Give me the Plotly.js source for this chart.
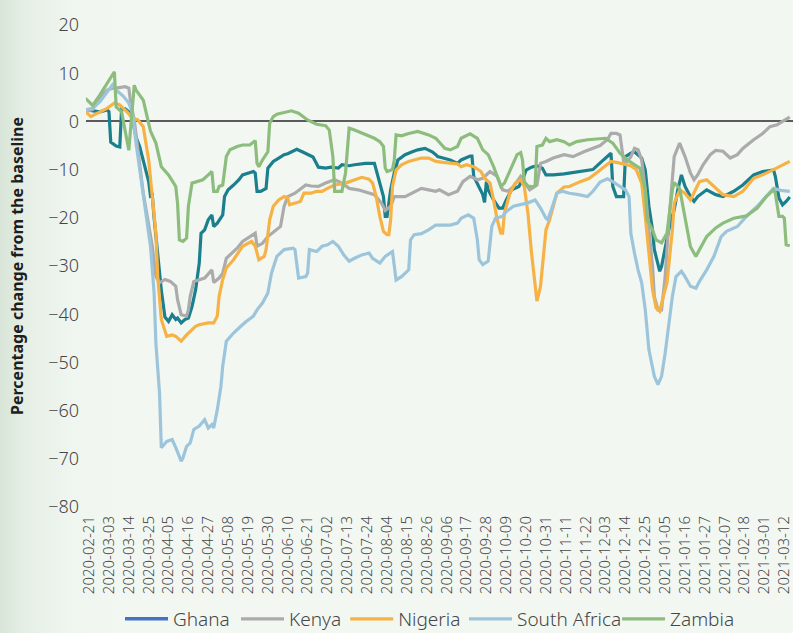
<!DOCTYPE html>
<html>
<head>
<meta charset="utf-8">
<script src="https://cdn.plot.ly/plotly-3.0.1.min.js"></script>
<style>
  html, body { margin: 0; padding: 0; }
  body { width: 793px; height: 633px; overflow: hidden;
    background: linear-gradient(to right, #d8e5d8 0px, #e6efe6 25px, #eff5ef 70px, #f2f7f2 120px, #f2f7f2 100%); }
  #chart { width: 793px; height: 633px; }
</style>
</head>
<body>
<div id="chart"></div>
<script>
// Day offsets are counted from 2020-02-21 (first tick date)
const ghanaDays = [-2,2,6,10,11,12,15,17,18,20,22,24,26,28,30,32,33,34,35,36,37,39,40,42,43,44,46,48,49,51,53,55,57,59,61,62,64,66,68,69,71,74,75,77,80,83,85,88,91,92,93,95,97,98,99,102,105,108,110,115,118,121,124,127,131,134,138,140,144,147,153,158,160,163,164,165,167,169,171,175,179,182,186,190,192,193,196,200,204,206,211,212,213,215,217,218,219,220,221,224,227,229,231,234,238,240,242,245,248,251,253,257,263,268,276,279,283,287,289,290,292,296,297,300,302,306,308,310,312,313,316,317,319,321,324,326,328,330,333,335,337,342,347,351,357,362,368,373,379,380,382,384,386,388];
const ghanaVals = [2.4,2.2,2.0,2.4,2.0,-4.3,-5.1,-5.3,2.6,2.6,2.0,0.5,-3.3,-5.2,-8.0,-10.5,-12.5,-15.5,-15.3,-20,-24,-31,-35,-40.6,-41.1,-41.5,-40.1,-41.1,-40.8,-41.8,-41.1,-40.8,-38.4,-34.9,-29.4,-23.2,-22.5,-20.4,-19.4,-21.8,-21.1,-19.4,-15.6,-14.2,-13.2,-12.1,-11.1,-10.7,-10.4,-10.7,-14.5,-14.5,-14.2,-13.9,-9.7,-8.3,-7.6,-6.9,-6.7,-5.8,-6.3,-6.9,-7.4,-9.5,-9.7,-9.5,-9.7,-9.0,-9.2,-9.0,-8.7,-8.7,-11.4,-15.6,-19.7,-19.7,-14.2,-10.7,-8.0,-6.9,-6.3,-5.9,-5.6,-6.3,-6.9,-7.3,-7.6,-8.0,-8.7,-8.0,-7.2,-7.2,-11.4,-12.8,-14.2,-15.2,-16.8,-12.5,-14.2,-16.3,-18.0,-18.0,-16.3,-14.2,-13.5,-12.1,-10.1,-9.5,-9.2,-9.7,-11.1,-11.1,-10.9,-10.6,-10.2,-10.0,-8.6,-7.4,-6.6,-13.5,-15.6,-15.6,-7.3,-6.6,-6.3,-7.6,-10.1,-17.6,-22.5,-26.6,-31.1,-30.1,-25.9,-22.5,-18.3,-14.2,-11.1,-13.5,-15.6,-16.6,-15.6,-14.2,-15.2,-15.6,-14.5,-13.2,-11.1,-10.4,-10.1,-11.4,-15.9,-17.3,-16.6,-15.7];

const kenyaDays = [-2,2,6,10,13,15,20,22,23,25,30,35,37,39,42,45,48,49,51,54,55,56,58,61,64,68,69,72,74,76,78,82,85,88,92,93,95,96,99,103,106,108,110,114,120,123,127,131,136,140,144,149,155,158,162,164,167,169,175,179,184,188,192,194,199,204,207,211,215,218,222,226,229,232,235,239,241,244,248,250,253,257,263,268,274,279,283,285,287,289,292,294,295,296,298,300,302,304,306,308,310,312,313,315,317,319,321,323,324,327,330,333,335,337,340,344,347,351,355,359,362,368,373,377,381,384,388];
const kenyaVals = [2.0,2.5,5.0,6.5,6.9,6.9,7.2,6.9,4.0,0.3,-14.9,-25.9,-32.2,-33.5,-32.8,-33.2,-34.2,-37.0,-40.1,-40.4,-39.1,-36.3,-33.2,-32.8,-32.5,-30.8,-33.4,-32.5,-31.5,-28.4,-27.7,-26.3,-24.9,-24.2,-23.2,-25.9,-25.6,-25.3,-23.9,-22.8,-21.8,-17.6,-15.6,-14.9,-13.2,-13.4,-13.5,-12.8,-12.1,-12.8,-13.9,-14.2,-14.9,-15.2,-17.0,-18.5,-17.6,-15.6,-15.6,-14.9,-13.9,-14.2,-14.5,-14.2,-15.2,-14.5,-12.5,-11.4,-12.1,-11.8,-10.4,-11.4,-14.2,-14.5,-13.5,-11.4,-12.5,-14.2,-13.2,-8.7,-8.3,-7.6,-6.9,-7.3,-6.3,-5.6,-5.0,-4.4,-3.8,-2.5,-2.5,-2.8,-5.2,-8.3,-8.3,-7.3,-5.6,-5.9,-8.0,-14.2,-22.5,-30.1,-36.3,-39.1,-39.1,-32.2,-21.1,-10.7,-7.3,-4.5,-7.3,-10.7,-12.1,-11.1,-9.0,-6.9,-6.0,-6.2,-7.6,-6.9,-5.6,-3.8,-2.5,-1.1,-0.7,0.0,0.9];

const nigeriaDays = [-2,1,3,6,10,14,17,21,24,27,30,33,35,37,38,40,43,46,48,49,51,54,57,59,61,66,69,71,72,74,76,80,83,85,90,92,94,97,98,100,102,105,108,110,111,114,117,119,123,126,129,132,136,142,147,151,155,157,159,161,163,165,166,167,168,170,173,177,180,184,188,192,196,200,204,206,209,213,217,219,222,224,226,228,229,230,233,236,239,241,243,245,247,248,250,252,253,255,257,259,263,266,272,277,283,287,289,292,296,300,303,306,308,310,312,314,316,318,320,323,324,327,330,333,336,338,342,347,351,357,362,368,373,379,384,388];
const nigeriaVals = [2.0,1.0,1.4,2.0,2.7,3.8,3.4,2.0,0.7,0.3,-1.1,-8.0,-14.9,-23.2,-32.2,-41.1,-44.6,-44.3,-44.6,-44.9,-45.6,-44.3,-43.2,-42.5,-42.2,-41.8,-41.8,-40.4,-36.3,-32.8,-30.4,-28.7,-27.0,-25.9,-24.9,-25.9,-28.7,-28.0,-26.6,-20.4,-17.6,-16.3,-15.6,-15.9,-17.3,-17.0,-16.6,-14.9,-14.9,-14.5,-14.5,-13.9,-13.2,-12.8,-12.1,-11.6,-12.0,-12.8,-15.6,-19.7,-22.8,-23.5,-23.5,-20.4,-13.5,-10.1,-9.0,-8.3,-8.0,-7.6,-7.6,-8.3,-8.5,-8.7,-8.8,-9.4,-9.0,-9.4,-10.4,-11.8,-12.8,-16.3,-20.4,-23.2,-23.2,-19.0,-14.9,-12.8,-12.1,-13.5,-19.0,-27.3,-34.2,-37.3,-34.2,-25.9,-22.5,-20.4,-17.6,-14.9,-13.6,-13.5,-12.5,-11.8,-10.1,-9.0,-8.3,-8.5,-8.8,-9.2,-10.0,-12.8,-19.7,-28.0,-34.9,-38.7,-39.4,-36.3,-33.5,-22.5,-17.0,-14.2,-14.9,-16.3,-13.9,-12.5,-12.1,-13.9,-15.2,-15.6,-14.5,-11.8,-11.1,-10.0,-9.0,-8.3];

const southAfricaDays = [-2,2,6,10,13,15,19,22,24,26,28,31,34,36,37,39,40,43,46,48,50,51,52,54,56,58,61,64,66,68,69,71,73,74,76,80,84,87,91,93,96,99,101,104,108,113,114,116,120,121,122,126,129,132,135,138,141,144,147,151,155,157,161,164,168,169,170,173,177,178,180,184,188,192,200,204,206,210,213,215,216,218,221,223,225,229,231,235,239,243,247,250,253,254,256,259,262,266,271,276,279,283,287,290,294,297,299,300,302,304,306,308,310,313,315,317,319,321,323,325,328,330,333,336,338,342,346,350,353,359,364,370,375,379,383,388];
const southAfricaVals = [2.4,2.7,4.1,6.2,7.6,6.5,5.2,3.8,1.7,-4.5,-10.0,-17.6,-25.9,-35.6,-46.0,-56.3,-67.7,-66.4,-66.0,-67.7,-69.8,-70.5,-69.8,-67.4,-66.7,-63.9,-63.2,-61.9,-63.6,-62.9,-63.6,-59.8,-55.0,-50.8,-45.6,-43.9,-42.5,-41.5,-40.4,-39.1,-37.7,-35.6,-31.5,-28.0,-26.6,-26.3,-26.6,-32.5,-32.2,-31.5,-26.6,-27.0,-25.9,-25.6,-24.9,-25.9,-27.7,-29.0,-28.4,-27.7,-27.3,-28.4,-29.4,-28.0,-27.0,-30.1,-32.9,-32.2,-30.8,-24.6,-23.5,-23.3,-22.5,-21.5,-21.5,-21.1,-20.1,-19.4,-20.1,-24.6,-28.7,-29.7,-29.0,-21.8,-20.1,-19.7,-18.7,-17.6,-17.3,-16.9,-16.3,-18.0,-20.1,-20.4,-18.3,-14.9,-14.5,-14.9,-15.2,-15.6,-14.5,-12.6,-11.9,-12.5,-13.5,-14.2,-15.6,-23.2,-27.3,-30.8,-33.5,-39.1,-47.4,-52.9,-54.6,-52.9,-48.1,-41.8,-36.3,-32.2,-31.1,-32.2,-34.2,-34.6,-33.2,-30.8,-28.0,-23.9,-22.8,-21.8,-19.7,-17.6,-15.6,-13.9,-14.3,-14.5];

const zambiaDays = [-2,2,6,10,14,15,18,22,25,26,30,34,37,40,44,48,49,50,52,54,55,57,60,63,66,68,69,71,72,74,76,78,82,85,89,91,92,93,94,96,99,100,102,104,107,112,116,121,126,131,133,135,136,140,142,144,147,153,158,161,163,164,165,168,169,170,173,177,182,188,192,197,200,204,206,211,215,218,221,224,228,230,233,237,239,240,241,243,246,247,248,251,253,255,259,263,266,270,276,281,286,290,294,298,301,305,308,309,312,314,317,320,323,324,327,330,333,336,338,342,347,351,357,364,370,375,379,380,382,384,385,386,388];
const zambiaVals = [4.8,3.3,5.5,8.0,10.3,3.0,2.0,-6.0,7.5,6.5,4.4,-2.0,-4.5,-9.4,-11.1,-13.5,-17.0,-24.6,-24.9,-24.2,-17.6,-12.8,-12.5,-12.1,-11.1,-10.4,-14.5,-14.5,-13.5,-13.2,-7.3,-5.9,-5.2,-4.9,-4.9,-4.2,-4.0,-8.7,-9.4,-8.0,-6.3,-0.4,1.0,1.5,1.7,2.2,1.7,0.3,-0.6,-0.9,-1.8,-7.3,-14.5,-14.5,-10.7,-1.4,-1.8,-2.8,-3.5,-4.2,-5.2,-9.7,-10.4,-10.0,-8.0,-2.8,-3.0,-2.5,-2.1,-2.8,-3.5,-5.6,-5.9,-5.2,-3.5,-2.6,-3.5,-5.9,-6.9,-9.4,-13.5,-12.8,-10.1,-6.9,-6.5,-8.0,-12.5,-13.4,-13.6,-13.2,-5.2,-4.9,-3.5,-4.2,-3.8,-4.2,-4.9,-4.2,-3.8,-3.7,-3.5,-4.5,-6.6,-8.0,-8.7,-9.7,-14.2,-20.4,-22.5,-24.6,-25.2,-23.2,-14.2,-12.7,-13.9,-20.4,-26.0,-28.0,-26.6,-23.9,-22.1,-21.1,-20.1,-19.6,-18.0,-15.6,-14.2,-14.9,-19.7,-19.7,-20.1,-25.6,-25.8];

const seriesNames = ['Ghana', 'Kenya', 'Nigeria', 'South Africa', 'Zambia'];
const yTicks = [20, 10, 0, -10, -20, -30, -40, -50, -60, -70, -80];
const xTickLabels = ['2020-02-21','2020-03-03','2020-03-14','2020-03-25','2020-04-05','2020-04-16','2020-04-27','2020-05-08','2020-05-19','2020-05-30','2020-06-10','2020-06-21','2020-07-02','2020-07-13','2020-07-24','2020-08-04','2020-08-15','2020-08-26','2020-09-06','2020-09-17','2020-09-28','2020-10-09','2020-10-20','2020-10-31','2020-11-11','2020-11-22','2020-12-03','2020-12-14','2020-12-25','2021-01-05','2021-01-16','2021-01-27','2021-02-07','2021-02-18','2021-03-01','2021-03-12'];

const BASE = Date.UTC(2020, 1, 21);
function toDates(days) {
  return days.map(d => new Date(BASE + d * 864e5).toISOString().slice(0, 10));
}

const lineColors = ['#1b7f8d', '#ababab', '#f6b245', '#9cc5dc', '#8dbd7d'];
const legendColors = ['#4472c4', '#ababab', '#f6b245', '#9cc5dc', '#8dbd7d'];
const allDays = [ghanaDays, kenyaDays, nigeriaDays, southAfricaDays, zambiaDays];
const allVals = [ghanaVals, kenyaVals, nigeriaVals, southAfricaVals, zambiaVals];
const legendX = [0.0481, 0.2122, 0.3666, 0.5347, 0.7511];
const legendIds = ['legend', 'legend2', 'legend3', 'legend4', 'legend5'];

const FONT = '"Noto Sans Condensed", "Noto Sans", "DejaVu Sans Condensed", sans-serif';
const TXT = '#464646';

const traces = [];
seriesNames.forEach((n, i) => {
  traces.push({
    x: toDates(allDays[i]), y: allVals[i], type: 'scatter', mode: 'lines', name: n,
    showlegend: i !== 0, legend: legendIds[i],
    line: { color: lineColors[i], width: 3.2, shape: 'linear' }
  });
});
// legend swatch for Ghana (its legend colour differs from its line colour in the source)
traces.push({ x: [null], y: [null], type: 'scatter', mode: 'lines', name: seriesNames[0],
  legend: legendIds[0], line: { color: legendColors[0], width: 3.5 }, hoverinfo: 'skip' });

const layout = {
  width: 793, height: 633,
  margin: { l: 86, r: 0, t: 25, b: 126, autoexpand: false },
  paper_bgcolor: 'rgba(0,0,0,0)',
  plot_bgcolor: 'rgba(0,0,0,0)',
  font: { family: FONT, color: TXT, weight: 300, stretch: 'condensed' },
  showlegend: true,
  xaxis: {
    type: 'date',
    range: ['2020-02-19 07:00', '2021-03-16 19:00'],
    tickvals: xTickLabels, ticktext: xTickLabels,
    tickangle: -90, showgrid: false, zeroline: false, showline: false,
    ticks: '', ticklabelstandoff: 5, ticklabeloverflow: 'allow',
    tickfont: { size: 15, color: TXT, family: FONT, weight: 300, stretch: 'condensed' }
  },
  yaxis: {
    range: [-80, 20], tickvals: yTicks, showgrid: false, showline: false,
    zeroline: true, zerolinecolor: '#5b5b5b', zerolinewidth: 2,
    ticks: '', ticklabelstandoff: 6, ticklabeloverflow: 'allow',
    tickfont: { size: 18, color: TXT, family: FONT, weight: 300, stretch: 'condensed' },
    automargin: false,
    title: { text: 'Percentage change from the baseline', standoff: 20,
      font: { size: 16, color: '#1e1e1e', family: FONT, weight: 700, stretch: 'condensed' } }
  }
};
legendIds.forEach((id, i) => {
  layout[id] = { orientation: 'h', x: legendX[i], xanchor: 'left', y: -0.2324, yanchor: 'middle',
    font: { size: 19, color: TXT, family: FONT, weight: 300, stretch: 'condensed' },
    bgcolor: 'rgba(0,0,0,0)', itemwidth: 43, entrywidth: 100, entrywidthmode: 'pixels' };
});

Plotly.newPlot('chart', traces, layout, { displayModeBar: false, staticPlot: true });
</script>
</body>
</html>
